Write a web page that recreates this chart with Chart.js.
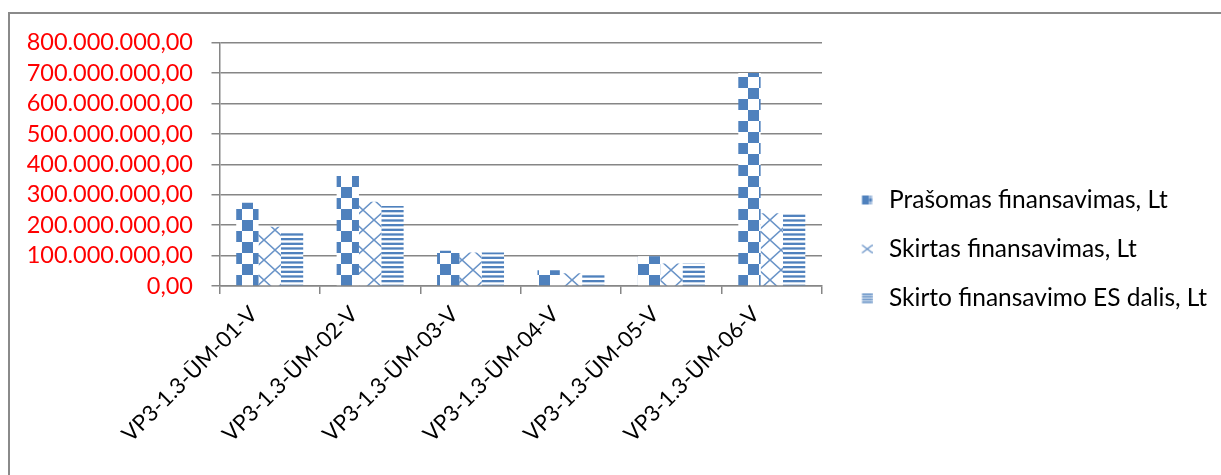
<!DOCTYPE html>
<html>
<head>
<meta charset="utf-8">
<script src="https://cdn.jsdelivr.net/npm/chart.js@4.4.1/dist/chart.umd.min.js"></script>
<style>
  html, body { margin: 0; padding: 0; background: #ffffff; }
  #wrap { position: relative; width: 1221px; height: 475px; overflow: hidden; }
  canvas { display: block; }
</style>
</head>
<body>
<div id="wrap"><canvas id="chart" width="1221" height="475"></canvas></div>
<script>
// Priemonių kodai
const categories = [
  'VP3-1.3-ŪM-01-V',
  'VP3-1.3-ŪM-02-V',
  'VP3-1.3-ŪM-03-V',
  'VP3-1.3-ŪM-04-V',
  'VP3-1.3-ŪM-05-V',
  'VP3-1.3-ŪM-06-V'
];

// Sumos litais
const prasomas = [274000000, 362000000, 116000000, 52000000, 98000000, 700000000];
const skirtas  = [195000000, 277000000, 110000000, 42000000, 74000000, 239000000];
const esDalis  = [181000000, 263000000, 110000000, 42000000, 74000000, 238000000];

const seriesNames = [
  'Prašomas finansavimas, Lt',
  'Skirtas finansavimas, Lt',
  'Skirto finansavimo ES dalis, Lt'
];

// Vertikalios ašies ribos
const yMin = 0;
const yMax = 800000000;
const yStep = 100000000;

const BLUE = '#4f81bd';
const LIGHT_BLUE = '#6a94c8';
const FONT = 'Lato, "Open Sans", sans-serif';

const canvas = document.getElementById('chart');
const ctx = canvas.getContext('2d');

function makeCanvas(w, h, paint, bg) {
  const c = document.createElement('canvas');
  c.width = w; c.height = h;
  const g = c.getContext('2d');
  if (bg) { g.fillStyle = bg; g.fillRect(0, 0, w, h); }
  paint(g);
  return c;
}

// Languotas raštas
const checkerFill = ctx.createPattern(makeCanvas(22, 22, g => {
  g.fillStyle = BLUE;
  g.fillRect(0, 0, 11, 11);
  g.fillRect(11, 11, 11, 11);
}, '#ffffff'), 'repeat');

// Įstrižas kryžminis raštas
const crossFill = ctx.createPattern(makeCanvas(22, 20, g => {
  g.strokeStyle = LIGHT_BLUE;
  g.lineWidth = 1.6;
  g.beginPath();
  g.moveTo(0, 0); g.lineTo(22, 20);
  g.moveTo(22, 0); g.lineTo(0, 20);
  g.stroke();
}, '#ffffff'), 'repeat');

// Horizontalių linijų raštas
const stripeFill = ctx.createPattern(makeCanvas(4, 14, g => {
  g.fillStyle = BLUE;
  const p = 14 / 3;
  for (let i = 0; i < 3; i++) g.fillRect(0, i * p, 4, 2.3);
}, '#ffffff'), 'repeat');

// Legendos ženkleliai (piešiami dešinėje drobės pusėje)
const checkerIcon = makeCanvas(22, 11, g => {
  g.fillStyle = BLUE;
  g.fillRect(11.4, 1, 7, 9);
  g.fillStyle = '#9db8db';
  g.fillRect(18.4, 1, 3, 3);
  g.fillRect(18.4, 7, 3, 3);
  g.fillStyle = BLUE;
  g.fillRect(18.4, 4, 3, 3);
});
const crossIcon = makeCanvas(22, 11, g => {
  g.strokeStyle = LIGHT_BLUE;
  g.lineWidth = 1.3;
  g.beginPath();
  g.moveTo(11.4, 1.5); g.lineTo(21.8, 9.5);
  g.moveTo(21.8, 1.5); g.lineTo(11.4, 9.5);
  g.stroke();
});
const stripeIcon = makeCanvas(22, 11, g => {
  g.fillStyle = BLUE;
  for (let i = 0; i < 4; i++) g.fillRect(11.4, 1 + i * 2.6, 10.4, 1.5);
});

function formatLt(v) {
  const whole = Math.round(v).toString().replace(/\B(?=(\d{3})+(?!\d))/g, '.');
  return whole + ',00';
}

// Rėmelis aplink diagramą
const framePlugin = {
  id: 'frame',
  beforeDraw(chart) {
    const c = chart.ctx;
    c.save();
    c.strokeStyle = '#8a8a8a';
    c.lineWidth = 2;
    c.beginPath();
    c.moveTo(9, chart.height + 2);
    c.lineTo(9, 13);
    c.lineTo(chart.width + 2, 13);
    c.stroke();
    c.restore();
  }
};

const fills = [checkerFill, crossFill, stripeFill];
const icons = [checkerIcon, crossIcon, stripeIcon];
const values = [prasomas, skirtas, esDalis];

new Chart(ctx, {
  type: 'bar',
  data: {
    labels: categories,
    datasets: seriesNames.map((name, i) => ({
      label: name,
      data: values[i],
      backgroundColor: fills[i],
      pointStyle: icons[i],
      borderWidth: 0,
      categoryPercentage: 0.667,
      barPercentage: 1.0
    }))
  },
  plugins: [framePlugin],
  options: {
    responsive: false,
    devicePixelRatio: 1,
    animation: false,
    layout: { padding: { left: 0, right: 9, top: 42.7, bottom: 19.7 } },
    plugins: {
      tooltip: { enabled: false },
      legend: {
        position: 'right',
        align: 'center',
        maxWidth: 390,
        labels: {
          color: '#000000',
          font: { family: FONT, size: 24.5 },
          usePointStyle: true,
          pointStyleWidth: 30.25,
          boxHeight: 12,
          padding: 24.5
        }
      }
    },
    scales: {
      x: {
        afterFit(scale) { scale.height = 475 - 19.7 - 286; },
        grid: {
          display: true,
          drawOnChartArea: false,
          drawTicks: true,
          tickLength: 8,
          color: '#868686',
          lineWidth: 1.5
        },
        border: { color: '#868686', width: 1.5 },
        ticks: {
          color: '#000000',
          font: { family: FONT, size: 22 },
          minRotation: 45,
          maxRotation: 45,
          padding: 7,
          labelOffset: -16,
          autoSkip: false
        }
      },
      y: {
        min: yMin,
        max: yMax,
        afterFit(scale) { scale.width = 219.5; },
        grid: {
          color: '#868686',
          lineWidth: 1.5,
          tickLength: 8
        },
        border: { color: '#868686', width: 1.5 },
        ticks: {
          stepSize: yStep,
          autoSkip: false,
          color: '#ff0000',
          font: { family: FONT, size: 23.5, lineHeight: 1.0 },
          padding: 18.5,
          callback: v => formatLt(v)
        }
      }
    }
  }
});
</script>
</body>
</html>
